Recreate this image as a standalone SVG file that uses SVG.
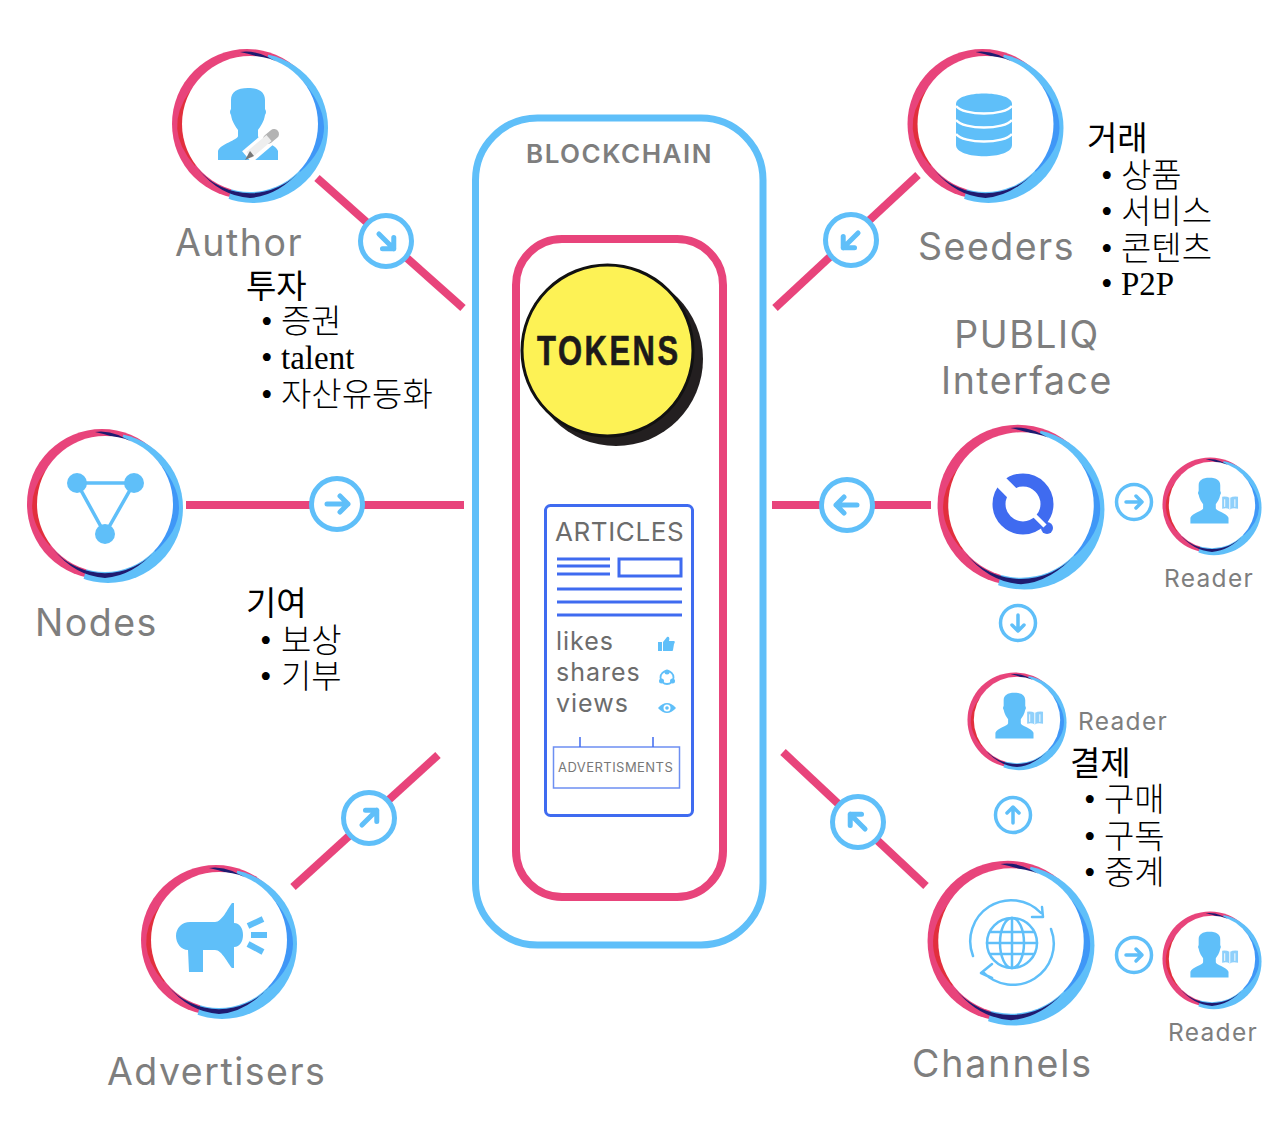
<svg xmlns="http://www.w3.org/2000/svg" xmlns:xlink="http://www.w3.org/1999/xlink" width="1280" height="1134" viewBox="0 0 1280 1134">
<style>
.lbl{font-family:"Inter","Liberation Sans",sans-serif;fill:#7e7e7e}
.big{font-size:37.500px;letter-spacing:1.500px}
.rd{font-size:24.500px;letter-spacing:1.300px}
.art{font-family:"Inter","Liberation Sans",sans-serif;fill:#6c6c6c;font-size:25px;letter-spacing:1px}
.ko{font-family:"Liberation Serif","Noto Sans CJK KR",serif;font-size:33px;fill:#000;font-weight:300}
.hd{font-weight:400}
.conn{stroke:#e8447b;stroke-width:8;fill:none}
.bline{stroke:#3f6bf0;stroke-width:3;fill:none}
.ic{fill:#5fbff9}
.ics{stroke:#5fbff9;fill:none;stroke-linecap:round}
</style>
<defs>
<clipPath id="blueside"><path d="M24 -90H95V95H-27Z"/></clipPath>
<g id="ring">
<circle cx="-3" cy="0" r="75" fill="#e8447b"/>
<circle cx="3" cy="4" r="75" fill="#5fbff9" clip-path="url(#blueside)"/>
<path d="M-10 -72Q10 -75 32 -58Q10 -68 -10 -72Z" fill="#1f1b70"/>
<path d="M-60 -33Q-88 5 -55 42L-40 0Z" fill="#e22f3d"/>
<path d="M48 -48Q99 5 50 48L30 0Z" fill="#3f97f7"/>
<path d="M-52 45A68 68 0 0 0 52 45Q28 72 0 74Q-30 72 -52 45Z" fill="#1f1b70"/>
<circle cx="0" cy="0" r="68" fill="#fff"/>
</g>
<path id="person" class="ic" d="M-2 -36C-13 -36 -19 -32 -19 -24L-19 -15Q-21 -12 -19 -9C-18 -2 -14 3 -12 6L-12 12C-12 16 -30 20 -32 27L-32 36L28 36L28 27C26 20 8 16 8 12L8 6C10 3 14 -2 15 -9Q17 -12 15 -15L15 -24C15 -32 9 -36 -2 -36Z"/>
<g id="reader">
<use xlink:href="#ring" href="#ring"/>
<use xlink:href="#person" href="#person" transform="translate(-2,-7)"/>
<path d="M16 -13Q23 -14 28 -11Q33 -14 41 -13V6Q33 4 28 7Q23 4 16 6Z" fill="#8fd0fb"/>
<path d="M28 -11V7M20 -9V3M36 -9V3" stroke="#fff" stroke-width="1.500" fill="none"/>
</g>
<g id="badge">
<circle r="25.500" fill="#fff" stroke="#5fbff9" stroke-width="5"/>
<path class="ics" stroke-width="5" stroke-linejoin="round" d="M-10 0H11M3 -8L11 0L3 8"/>
</g>
<g id="sbadge">
<circle r="17.500" fill="#fff" stroke="#5fbff9" stroke-width="3.500"/>
<path class="ics" stroke-width="3.500" stroke-linejoin="round" d="M-8 0H8M2 -6L8 0L2 6"/>
</g>
</defs>
<rect width="1280" height="1134" fill="#fff"/>

<g id="connectors">
<path class="conn" d="M317 178L463 308"/>
<path class="conn" d="M918 175L775 308"/>
<path class="conn" d="M186 505H464"/>
<path class="conn" d="M772 505H931"/>
<path class="conn" d="M293 887L438 755"/>
<path class="conn" d="M783 752L926 886"/>
<use href="#badge" transform="translate(386,241) rotate(45)"/>
<use href="#badge" transform="translate(851,240) rotate(135)"/>
<use href="#badge" transform="translate(337,504)"/>
<use href="#badge" transform="translate(847,505) rotate(180)"/>
<use href="#badge" transform="translate(369,818) rotate(-45)"/>
<use href="#badge" transform="translate(858,822) rotate(-135)"/>
<use href="#sbadge" transform="translate(1134,502)"/>
<use href="#sbadge" transform="translate(1018,623) rotate(90)"/>
<use href="#sbadge" transform="translate(1013,815) rotate(-90)"/>
<use href="#sbadge" transform="translate(1134,955)"/>
</g>

<g id="blockchain">
<rect x="475.500" y="118" width="287.500" height="827" rx="62" fill="none" stroke="#5fbff9" stroke-width="7"/>
<text x="526" y="163" style="font-family:Inter,'Liberation Sans',sans-serif;font-size:26px;font-weight:600;letter-spacing:1.500px;fill:#7e7e7e">BLOCKCHAIN</text>
<rect x="516" y="239" width="207" height="658" rx="46" fill="none" stroke="#e8447b" stroke-width="8"/>
</g>

<g id="tokens">
<circle cx="616" cy="359" r="87" fill="#231f20"/>
<circle cx="607.500" cy="350.500" r="85.500" fill="#fdf255" stroke="#111" stroke-width="3"/>
<text transform="translate(537,365) scale(.72,1)" textLength="196" lengthAdjust="spacing" stroke="#1c1a1a" stroke-width=".7" style="font-family:'Liberation Sans',sans-serif;font-size:43px;font-weight:700;fill:#1c1a1a">TOKENS</text>
</g>

<g id="articles">
<rect x="545.500" y="505.500" width="147" height="310" rx="5" fill="#fff" stroke="#3f6bf0" stroke-width="3"/>
<text x="555" y="541" style="font-family:Inter,'Liberation Sans',sans-serif;font-size:26px;letter-spacing:.6px;fill:#6c6c6c">ARTICLES</text>
<path class="bline" d="M557 559H610M557 566H610M557 574H610M557 589H682M557 602H682M557 615H682"/>
<rect x="619" y="559" width="62" height="17" class="bline"/>
<text class="art" x="556" y="650">likes</text>
<text class="art" x="556" y="681">shares</text>
<text class="art" x="556" y="712">views</text>
<path class="ic" d="M658 642H662V651H658ZM663 642L667 637C669 636 670 638 669 641H674C675 641 675 643 674 644L673 650C673 651 672 651 671 651H663Z"/>
<circle cx="667" cy="672" r="2.500" class="ic"/><circle cx="661.500" cy="681" r="2.500" class="ic"/><circle cx="672.500" cy="681" r="2.500" class="ic"/>
<circle cx="667" cy="677.500" r="6.500" class="ics" stroke-width="1.800"/>
<path class="ic" d="M658 708Q667 698 676 708Q667 718 658 708Z"/><circle cx="667" cy="708" r="3.500" fill="#fff"/><circle cx="667" cy="708" r="1.800" class="ic"/>
<rect x="553.500" y="747" width="126" height="41" fill="#fff" stroke="#6d8ff2" stroke-width="1.500"/>
<path d="M580 737V747M653 737V747" stroke="#3f6bf0" stroke-width="1.500"/>
<text x="558" y="772" style="font-family:Inter,'Liberation Sans',sans-serif;font-size:13px;letter-spacing:.45px;fill:#777">ADVERTISMENTS</text>
</g>

<g id="node-author">
<use href="#ring" transform="translate(250,124)"/>
<use href="#person" transform="translate(250,124)"/>
<path d="M247 157L274 134" stroke="#fff" stroke-width="15"/>
<path d="M268 139L274 134" stroke="#b3b3b3" stroke-width="10" stroke-linecap="round"/>
<path d="M249 155L269 138" stroke="#eee" stroke-width="8"/>
<path d="M245 160L250 151L254 156Z" fill="#777"/>
<text class="lbl big" x="175" y="256">Author</text>
</g>

<g id="node-nodes">
<use href="#ring" transform="translate(105,504)"/>
<path class="ics" stroke-width="3.500" d="M77 483H134L105 534Z"/>
<circle class="ic" cx="77" cy="483" r="10"/><circle class="ic" cx="134" cy="483" r="10"/><circle class="ic" cx="105" cy="534" r="10"/>
<text class="lbl big" x="35" y="636">Nodes</text>
</g>

<g id="node-advertisers">
<use href="#ring" transform="translate(219,940)"/>
<path class="ic" transform="translate(219,940)" d="M-29 -18L-4 -18C3 -18 9 -32 13 -37L15 -37L15 -17C21 -17 24 -11 24 -5C24 1 21 7 15 7L15 28L13 28C9 24 3 10 -4 10L-16 10L-16 32L-30 32L-31 10C-38 10 -43 3 -43 -4C-43 -12 -37 -18 -29 -18Z"/>
<path stroke="#5fbff9" stroke-width="6" fill="none" transform="translate(219,940)" d="M29 -14L44 -21M32 -5H48M29 4L44 12"/>
<text class="lbl big" x="107" y="1085">Advertisers</text>
</g>

<g id="node-seeders">
<use href="#ring" transform="translate(985.500,124)"/>
<path class="ic" d="M956 104C956 90 1012 90 1012 104V145C1012 160 956 160 956 145Z"/>
<path d="M956 106C964 116 1004 116 1012 106M956 120C964 130 1004 130 1012 120M956 134C964 144 1004 144 1012 134" stroke="#fff" stroke-width="2.500" fill="none"/>
<text class="lbl big" x="918" y="260">Seeders</text>
</g>

<g id="node-publiq">
<use href="#ring" transform="translate(1021,505) scale(1.07)"/>
<circle cx="1023" cy="504" r="24" fill="none" stroke="#3f6bf0" stroke-width="13"/>
<circle cx="1047" cy="528" r="6" fill="#3f6bf0"/>
<path d="M1023 504L1000 481" stroke="#fff" stroke-width="13"/>
<path d="M1030 511L1045 526" stroke="#fff" stroke-width="4.500"/>
<text class="lbl big" x="1027" y="348" text-anchor="middle">PUBLIQ</text>
<text class="lbl big" x="1027" y="394" text-anchor="middle">Interface</text>
</g>

<g id="node-channels">
<use href="#ring" transform="translate(1011,941) scale(1.07)"/>
<g transform="translate(1012,943)" class="ics" stroke-width="2.500" stroke-linejoin="round">
<circle r="25"/><ellipse rx="12" ry="25"/><path d="M0 -25V25M-25 0H25M-22 -11H22M-22 11H22"/>
<path d="M-39 13A41 41 0 0 1 29 -30M20 -26H31L30 -36"/>
<path d="M39 -14A41 41 0 0 1 -29 29M-20 21L-31 30L-20 35"/>
</g>
<text class="lbl big" x="912" y="1077" style="letter-spacing:1.900px">Channels</text>
</g>

<g id="node-reader-1">
<use href="#reader" transform="translate(1212,505) scale(.635)"/>
<text class="lbl rd" x="1164" y="587">Reader</text>
</g>
<g id="node-reader-2">
<use href="#reader" transform="translate(1017,720) scale(.635)"/>
<text class="lbl rd" x="1078" y="730">Reader</text>
</g>
<g id="node-reader-3">
<use href="#reader" transform="translate(1212,959) scale(.635)"/>
<text class="lbl rd" x="1168" y="1041">Reader</text>
</g>

<g id="note-author" class="ko">
<text class="hd" x="246" y="298">투자</text>
<text x="261" y="333">•<tspan x="281">증권</tspan></text>
<text x="261" y="369">•<tspan x="281">talent</tspan></text>
<text x="261" y="406">•<tspan x="281">자산유동화</tspan></text>
</g>
<g id="note-nodes" class="ko">
<text class="hd" x="246" y="615">기여</text>
<text x="260" y="652">•<tspan x="281">보상</tspan></text>
<text x="260" y="688">•<tspan x="281">기부</tspan></text>
</g>
<g id="note-seeders" class="ko">
<text class="hd" x="1087" y="150">거래</text>
<text x="1101" y="187">•<tspan x="1121">상품</tspan></text>
<text x="1101" y="223">•<tspan x="1121">서비스</tspan></text>
<text x="1101" y="260">•<tspan x="1121">콘텐츠</tspan></text>
<text x="1101" y="295">•<tspan x="1121">P2P</tspan></text>
</g>
<g id="note-channels" class="ko">
<text class="hd" x="1070" y="775">결제</text>
<text x="1084" y="811">•<tspan x="1104">구매</tspan></text>
<text x="1084" y="848">•<tspan x="1104">구독</tspan></text>
<text x="1084" y="884">•<tspan x="1104">중계</tspan></text>
</g>
</svg>
